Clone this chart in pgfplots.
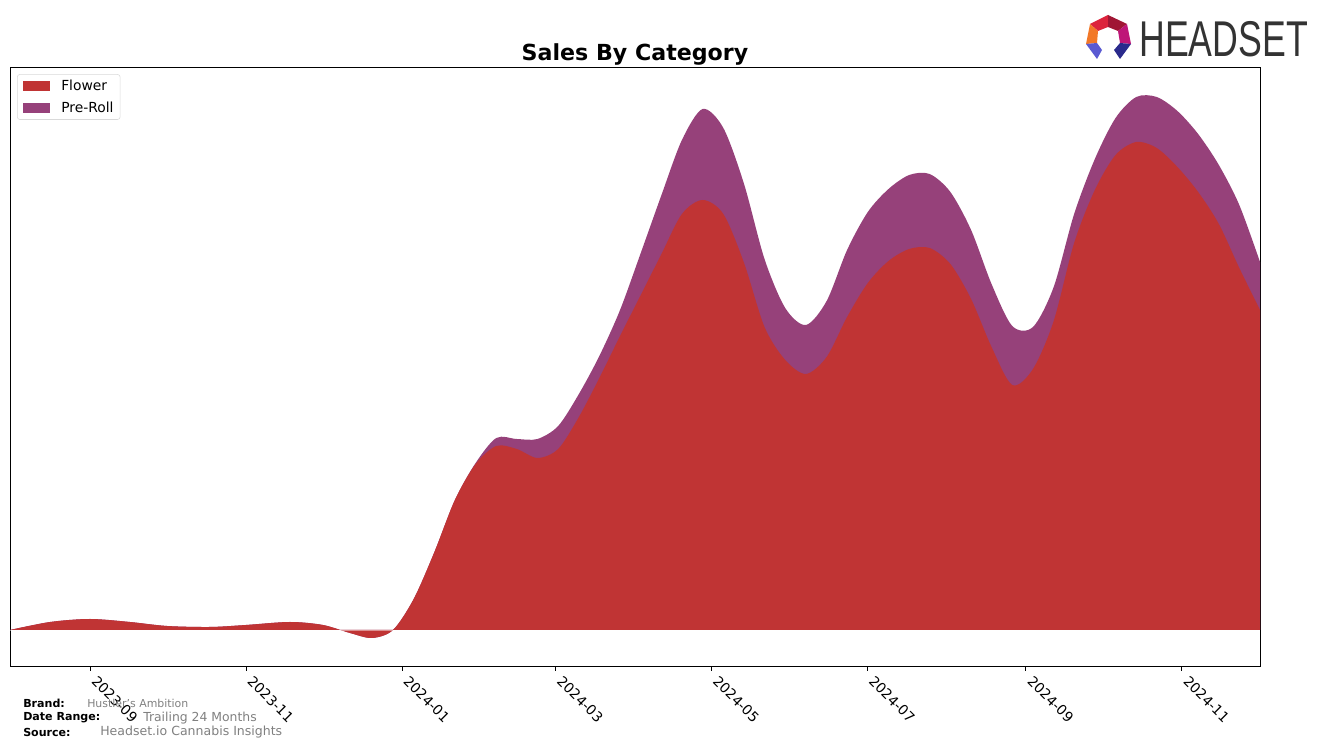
\documentclass[border=0pt]{standalone}
\usepackage{fontspec}
\setmainfont{DejaVu Sans}
\newfontfamily\logofont{Liberation Sans}
\usepackage{pgfplots}
\usepackage{pgfplotstable}
\pgfplotsset{compat=1.18}
\definecolor{flc}{RGB}{192,52,52}
\definecolor{prc}{RGB}{150,65,122}
\definecolor{footgrey}{RGB}{128,128,128}
\definecolor{logogrey}{RGB}{51,51,51}

\pgfplotstableread{
d F P
-31.3 0 0
-15.6 8 0
0 11 0
15.6 8 0
30.1 4 0
46.9 3 0
61.0 5 0
78.2 8 0
91.1 5 0
101.7 -3 0
110.3 -8 0
118.5 0 0
126.6 31 0
134.7 78 0
142.7 130 0
150.8 166 1
158.9 184 8
166.9 181 10
175.0 172 19
183.1 181 23
191.2 213 23
199.2 252 22
207.3 294 26
215.4 335 42
223.5 376 59
231.5 416 74
239.6 430 91
247.7 416 86
255.8 367 79
263.8 303 68
271.9 270 52
280.0 256 49
288.1 273 56
296.1 313 67
304.2 347 71
312.3 369 72
320.4 381 74
328.4 382 74
336.5 366 72
344.6 331 69
352.6 283 63
360.7 245 59
368.8 261 42
376.9 309 34
384.9 387 29
393.0 440 31
401.1 475 37
409.2 488 45
417.2 482 51
425.3 463 56
433.4 438 58
441.5 406 59
449.5 362 63
457.6 320 48
}\salesdata

\begin{document}
\begin{tikzpicture}[x=0.75pt,y=0.75pt]
\useasboundingbox (0,0) rectangle (1324,748);
\begin{axis}[
  at={(7.5pt,61.5pt)}, anchor=south west,
  width=937.5pt, height=449.25pt, scale only axis,
  xmin=-31.3, xmax=457.6, ymin=-36, ymax=563,
  ytick=\empty,
  xtick={0,61,122,182,243,304,366,427},
  xticklabels={2023-09,2023-11,2024-01,2024-03,2024-05,2024-07,2024-09,2024-11},
  xtick pos=bottom, tick align=outside,
  major tick length=3.7pt,
  every tick/.style={black, line width=0.6pt},
  axis line style={black, line width=0.6pt},
  xticklabel style={xshift=6pt, yshift=-1.5pt, rotate=-45, anchor=north west, inner sep=1pt, font=\fontsize{10.4}{12}\selectfont},
  legend style={at={(0.0056,0.988)}, anchor=north west, draw=black!15, rounded corners=2pt,
    font=\fontsize{10.4}{12}\selectfont, inner xsep=3pt, inner ysep=2pt, row sep=3pt},
  legend cell align=left,
  legend image code/.code={\fill[#1, sharp corners] (1.5pt,-3.75pt) rectangle (21.75pt,3.75pt); \path (0pt,0pt) (28pt,0pt);},
]
\addplot[fill=prc, draw=none, smooth, forget plot] table[x=d, y expr=\thisrow{F}+\thisrow{P}] {\salesdata} \closedcycle;
\addplot[fill=flc, draw=none, smooth] table[x=d, y=F] {\salesdata} \closedcycle;
\addlegendentry{Flower}
\addlegendimage{fill=prc, draw=none}
\addlegendentry{Pre-Roll}
\draw[white, opacity=0.45, line width=0.4pt] (axis cs:-31.3,0) -- (axis cs:457.6,0);
\end{axis}

% title
\node[font=\bfseries\fontsize{16.6}{18}\selectfont, anchor=center] at (635,694) {Sales By Category};

% footer
\node[anchor=west, inner sep=0, font=\bfseries\fontsize{8.3}{9}\selectfont] at (23,45) {Brand:};
\node[anchor=west, inner sep=0, text=footgrey, font=\fontsize{8.2}{9}\selectfont] at (87,45) {Hustler's Ambition};
\node[anchor=west, inner sep=0, font=\bfseries\fontsize{8.3}{9}\selectfont] at (23,30) {Date Range:};
\node[anchor=west, inner sep=0, text=footgrey, font=\fontsize{9.3}{10}\selectfont] at (143,30) {Trailing 24 Months};
\node[anchor=west, inner sep=0, font=\bfseries\fontsize{8.3}{9}\selectfont] at (23,16) {Source:};
\node[anchor=west, inner sep=0, text=footgrey, font=\fontsize{9.4}{10}\selectfont] at (100,16) {Headset.io Cannabis Insights};

% logo
\fill[fill={rgb,255:red,220;green,35;blue,60}] (1090,724) -- (1108,733) -- (1108,721) -- (1098,717) -- cycle;
\fill[fill={rgb,255:red,160;green,22;blue,52}] (1108,733) -- (1127,724) -- (1118,717) -- (1108,721) -- cycle;
\fill[fill={rgb,255:red,242;green,120;blue,40}] (1090,724) -- (1098,717) -- (1097,705) -- (1086,704) -- cycle;
\fill[fill={rgb,255:red,190;green,22;blue,120}] (1127,724) -- (1131,704) -- (1120,705) -- (1118,717) -- cycle;
\fill[fill={rgb,255:red,90;green,90;blue,210}] (1086,704) -- (1097,705) -- (1102,698) -- (1097,689) -- cycle;
\fill[fill={rgb,255:red,42;green,42;blue,140}] (1131,704) -- (1120,705) -- (1114,698) -- (1120,689) -- cycle;
\node[anchor=west, inner sep=0, text=logogrey] at (1139,709)
  {\scalebox{0.71}[1]{\logofont\fontsize{37.7}{40}\selectfont HEADSET}};
\end{tikzpicture}
\end{document}
